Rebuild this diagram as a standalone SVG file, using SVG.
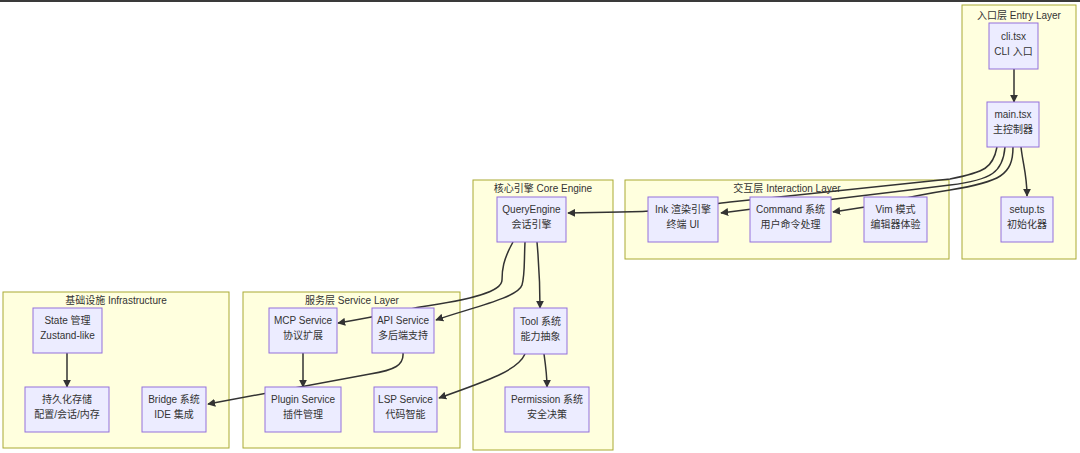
<svg xmlns="http://www.w3.org/2000/svg" width="1080" height="453" viewBox="0 0 1080 453">
<defs>
<marker id="arr" viewBox="0 0 10 10" refX="9" refY="5" markerWidth="8" markerHeight="8" markerUnits="userSpaceOnUse" orient="auto">
<path d="M0,0 L10,5 L0,10 z" fill="#333333"/>
</marker>
<style>
.cl{fill:#ffffde;stroke:#aaaa33;stroke-width:1}
.nd{fill:#ececff;stroke:#9370db;stroke-width:1}
.t{font-family:"Liberation Sans","Noto Sans CJK SC",sans-serif;font-size:10px;fill:#333333;text-anchor:middle}
.e{fill:none;stroke:#333333;stroke-width:1.5;marker-end:url(#arr)}
</style>
</defs>
<rect x="0" y="0" width="1080" height="453" fill="#ffffff"/>
<rect x="0" y="0" width="1080" height="2" fill="#3a3a3a"/>
<g id="clusters">
<g id="entry"><rect class="cl" x="962" y="5" width="114" height="254"/><text class="t" x="1019" y="19">入口层 Entry Layer</text></g>
<g id="interaction"><rect class="cl" x="625" y="180" width="324" height="79"/><text class="t" x="787" y="192">交互层 Interaction Layer</text></g>
<g id="core"><rect class="cl" x="473" y="180" width="140" height="270"/><text class="t" x="543" y="192">核心引擎 Core Engine</text></g>
<g id="service"><rect class="cl" x="243" y="292" width="217" height="156"/><text class="t" x="352" y="304">服务层 Service Layer</text></g>
<g id="infra"><rect class="cl" x="3" y="292" width="226" height="156"/><text class="t" x="116" y="304">基础设施 Infrastructure</text></g>
</g>
<g id="edges">
<path class="e" d="M1014,69 L1014,102"/>
<path class="e" d="M1021,147 C1023,165 1027,175 1027,196"/>
<path class="e" d="M997,147 C993,168 985,172 950,179 L730,202 C690,207 660,212 620,212 L568,213"/>
<path class="e" d="M1005,147 C1003,172 992,180 950,185 C880,194 800,203 760,208 L721,213"/>
<path class="e" d="M1013,147 C1013,175 1000,182 950,190 C910,196 880,204 865,207 L833,212"/>
<path class="e" d="M513,242 C503,260 502,270 502,280 C502,292 470,300 420,307 C400,311 380,316 338,323"/>
<path class="e" d="M525,242 C524,262 525,275 522,285 C518,298 470,308 436,320"/>
<path class="e" d="M537,242 C539,265 540,285 540,308"/>
<path class="e" d="M525,354 C518,370 490,380 439,398"/>
<path class="e" d="M544,354 C546,368 547,375 547,387"/>
<path class="e" d="M303,353 L303,387"/>
<path class="e" d="M403,353 C404,365 395,370 370,374 C330,381 290,389 208,404"/>
<path class="e" d="M67,353 L67,387"/>
</g>
<g id="cli"><rect class="nd" x="989" y="23" width="49" height="46"/><text class="t" x="1013.5" y="39.5">cli.tsx</text><text class="t" x="1013.5" y="54.5">CLI 入口</text></g>
<g id="main"><rect class="nd" x="987" y="102" width="52" height="45"/><text class="t" x="1013" y="118">main.tsx</text><text class="t" x="1013" y="133">主控制器</text></g>
<g id="setup"><rect class="nd" x="1001" y="197" width="52" height="45"/><text class="t" x="1027" y="213">setup.ts</text><text class="t" x="1027" y="228">初始化器</text></g>
<g id="ink"><rect class="nd" x="648" y="197" width="70" height="45"/><text class="t" x="683" y="213">Ink 渲染引擎</text><text class="t" x="683" y="228">终端 UI</text></g>
<g id="command"><rect class="nd" x="750" y="197" width="81" height="45"/><text class="t" x="790.5" y="213">Command 系统</text><text class="t" x="790.5" y="228">用户命令处理</text></g>
<g id="vim"><rect class="nd" x="864" y="197" width="63" height="45"/><text class="t" x="895.5" y="213">Vim 模式</text><text class="t" x="895.5" y="228">编辑器体验</text></g>
<g id="query"><rect class="nd" x="497" y="197" width="69" height="45"/><text class="t" x="531.5" y="213">QueryEngine</text><text class="t" x="531.5" y="228">会话引擎</text></g>
<g id="tool"><rect class="nd" x="514" y="308" width="53" height="46"/><text class="t" x="540.5" y="324.5">Tool 系统</text><text class="t" x="540.5" y="339.5">能力抽象</text></g>
<g id="permission"><rect class="nd" x="505" y="387" width="84" height="45"/><text class="t" x="547" y="403">Permission 系统</text><text class="t" x="547" y="418">安全决策</text></g>
<g id="mcp"><rect class="nd" x="269" y="308" width="68" height="45"/><text class="t" x="303" y="324">MCP Service</text><text class="t" x="303" y="339">协议扩展</text></g>
<g id="api"><rect class="nd" x="372" y="308" width="62" height="45"/><text class="t" x="403" y="324">API Service</text><text class="t" x="403" y="339">多后端支持</text></g>
<g id="plugin"><rect class="nd" x="265" y="387" width="76" height="45"/><text class="t" x="303" y="403">Plugin Service</text><text class="t" x="303" y="418">插件管理</text></g>
<g id="lsp"><rect class="nd" x="374" y="387" width="63" height="45"/><text class="t" x="405.5" y="403">LSP Service</text><text class="t" x="405.5" y="418">代码智能</text></g>
<g id="state"><rect class="nd" x="33" y="308" width="69" height="45"/><text class="t" x="67.5" y="324">State 管理</text><text class="t" x="67.5" y="339">Zustand-like</text></g>
<g id="persist"><rect class="nd" x="25" y="387" width="84" height="45"/><text class="t" x="67" y="403">持久化存储</text><text class="t" x="67" y="418">配置/会话/内存</text></g>
<g id="bridge"><rect class="nd" x="142" y="387" width="64" height="45"/><text class="t" x="174" y="403">Bridge 系统</text><text class="t" x="174" y="418">IDE 集成</text></g>
</svg>
